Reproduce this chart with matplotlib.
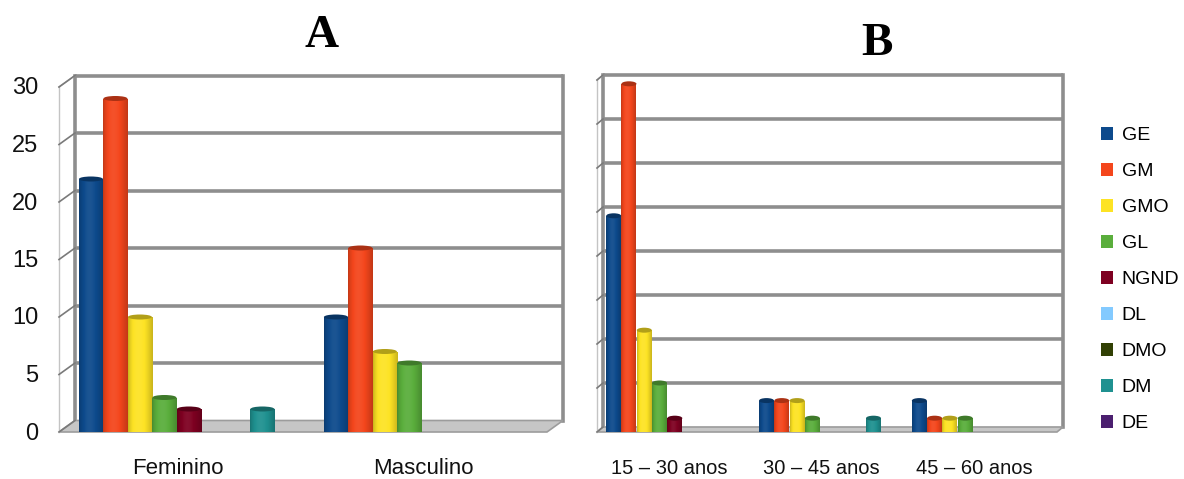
import numpy as np
import matplotlib
matplotlib.use("Agg")
import matplotlib.pyplot as plt
from matplotlib.patches import Polygon, Patch, Ellipse
from matplotlib import transforms as mtransforms

plt.rcParams['font.family'] = ['Liberation Sans', 'DejaVu Sans']

# series and colours (LibreOffice palette)
series = ['GE', 'GM', 'GMO', 'GL', 'NGND', 'DL', 'DMO', 'DM', 'DE']
colors = ['#0d4a8c', '#f4461c', '#fde324', '#5aae3c', '#7e0021',
          '#83caff', '#314004', '#1f9190', '#4b1f6f']

# panel A: by sex
sexo = ['Feminino', 'Masculino']
feminino = [21, 28, 9, 2, 1, 0, 0, 1, 0]
masculino = [9, 15, 6, 5, 0, 0, 0, 0, 0]

# panel B: by age group
faixas = ['15 – 30 anos', '30 – 45 anos', '45 – 60 anos']
f15_30 = [24, 39, 11, 5, 1, 0, 0, 0, 0]
f30_45 = [3, 3, 3, 1, 0, 0, 0, 1, 0]
f45_60 = [3, 1, 1, 1, 0, 0, 0, 0, 0]

W, H = 1184, 479
fig = plt.figure(figsize=(W / 100, H / 100), dpi=100)


def px_axes(l, t, r, b):
    return fig.add_axes([l / W, 1 - b / H, (r - l) / W, (b - t) / H])


def shade(c, f):
    rgb = np.array(matplotlib.colors.to_rgb(c))
    out = rgb * f if f <= 1 else rgb + (1 - rgb) * (f - 1)
    return np.clip(out, 0, 1)


def panel(ax, cats, groups, ymax, step, floor, xlim, dx_px, lab_dx, yticks_on):
    ax.set_xlim(*xlim)
    ax.set_ylim(-floor, ymax)
    ax.axis('off')
    bb = ax.get_window_extent()
    ppu = bb.height / (ymax + floor)
    fy = floor / (ymax + floor)
    dxf = dx_px / bb.width
    grid_c = '#8e8e8e'

    # floor and left wall
    ax.add_patch(Polygon([(0, fy), (1, fy), (1 - dxf, 0), (-dxf, 0)],
                         closed=True, transform=ax.transAxes, clip_on=False,
                         facecolor='#c6c6c6', edgecolor='#9c9c9c', lw=1.2, zorder=1))
    ax.plot([-dxf, -dxf], [0, 1 - fy], transform=ax.transAxes, clip_on=False,
            color='#c4c4c4', lw=1, zorder=1)
    ax.plot([-dxf, 0], [1 - fy, 1], transform=ax.transAxes, clip_on=False,
            color='#b8b8b8', lw=1, zorder=1)

    ticks = np.arange(0, ymax + 0.1, step)
    for v in ticks:
        ya = (v + floor) / (ymax + floor)
        if v > 0:
            ax.plot([0, 1], [ya, ya], transform=ax.transAxes, clip_on=False,
                    color=grid_c, lw=2.6, solid_capstyle='butt', zorder=0.5)
        ax.plot([0, -dxf], [ya, ya - fy], transform=ax.transAxes, clip_on=False,
                color='#7a7a7a', lw=1.2, zorder=1)
    ax.plot([0, 0], [fy, 1], transform=ax.transAxes, clip_on=False,
            color=grid_c, lw=2.6, zorder=0.6)
    ax.plot([1, 1], [fy, 1], transform=ax.transAxes, clip_on=False,
            color=grid_c, lw=2.6, zorder=0.6)

    # bars
    n = len(series)
    w = 0.1
    t = np.linspace(0, 1, 40)
    prof = 0.8 + 0.26 * np.sin(np.pi * t ** 0.8)
    for i, s in enumerate(series):
        vals = np.array([g[i] for g in groups], dtype=float)
        x = np.arange(len(cats)) + (i - (n - 1) / 2) * w
        m = vals > 0
        if not m.any():
            continue
        bars = ax.bar(x[m], vals[m] + floor, bottom=-floor, width=w * 0.98,
                      color=colors[i], zorder=3, linewidth=0)
        grad = np.array([[np.append(shade(colors[i], f), 1) for f in prof]])
        for b, v in zip(bars, vals[m]):
            im = ax.imshow(grad, extent=[b.get_x(), b.get_x() + b.get_width(),
                                         b.get_y(), b.get_y() + b.get_height()],
                           aspect='auto', zorder=3.2, interpolation='bilinear')
            im.set_clip_path(b)
            ax.add_patch(Ellipse((b.get_x() + b.get_width() / 2, v),
                                 b.get_width(), 5 / ppu,
                                 facecolor=shade(colors[i], 0.7), edgecolor='none',
                                 zorder=3.5))
    ax.set_xlim(*xlim)
    ax.set_ylim(-floor, ymax)

    # labels
    lab_tr = mtransforms.offset_copy(
        mtransforms.blended_transform_factory(ax.transData, fig.transFigure),
        fig=fig, x=lab_dx, y=0, units='dots')
    for k, c in enumerate(cats):
        ax.text(k, 1 - 468 / H, c, transform=lab_tr, ha='center', va='center',
                fontsize=16 if yticks_on else 14.5, color='#111111')
    if yticks_on:
        tick_tr = mtransforms.offset_copy(
            mtransforms.blended_transform_factory(fig.transFigure, ax.transData),
            fig=fig, x=0, y=-13, units='dots')
        for v in ticks:
            ax.text(38 / W, v, f'{v:g}', transform=tick_tr, ha='right',
                    va='center', fontsize=17, color='#111111')


axA = px_axes(75, 75.5, 563, 432)
panel(axA, sexo, [feminino, masculino], 30, 5, 1.0, (-0.465, 1.527), 16, -11, True)

axB = px_axes(603, 75, 1063, 432)
panel(axB, faixas, [f15_30, f30_45, f45_60], 40, 5, 0.57, (-0.47, 2.54), 6, -6, False)

fig.text(322 / W, 1 - 47 / H, 'A', ha='center', va='baseline',
         family=['Liberation Serif', 'DejaVu Serif'], weight='bold', fontsize=34)
fig.text(877 / W, 1 - 55 / H, 'B', ha='center', va='baseline',
         family=['Liberation Serif', 'DejaVu Serif'], weight='bold', fontsize=34)

handles = [Patch(facecolor=c, edgecolor='none') for c in colors]
fig.legend(handles, series, loc='upper left', bbox_to_anchor=(1101 / W, 1 - 127 / H),
           frameon=False, fontsize=14, handlelength=0.62, handleheight=0.62,
           handletextpad=0.45, labelspacing=0.97, borderpad=0, borderaxespad=0)

fig.savefig('out.png', dpi=100)
